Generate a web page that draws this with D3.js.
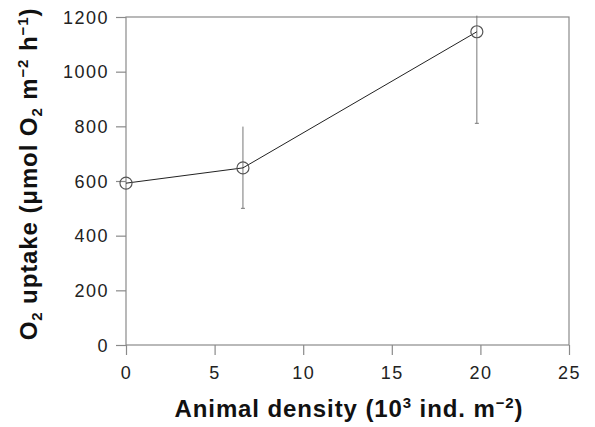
<!DOCTYPE html>
<html>
<head>
<meta charset="utf-8">
<script src="https://cdn.jsdelivr.net/npm/d3@7"></script>
<style>
  body { margin: 0; background: #fff; }
  svg { font-family: "Liberation Sans", Arial, sans-serif; }
</style>
</head>
<body>
<svg id="chart" width="595" height="427"></svg>
<script>
  // values
  const density = [0, 6.6, 19.8];
  const uptake = [592, 648, 1146];
  const errLow = [592, 500, 811];
  const errHigh = [592, 799, 1205];
  const xTicks = [0, 5, 10, 15, 20, 25];
  const yTicks = [0, 200, 400, 600, 800, 1000, 1200];

  const svg = d3.select('#chart');
  const plotLeft = 126, plotRight = 569, plotTop = 17, plotBottom = 345;

  const x = d3.scaleLinear().domain([0, 25]).range([plotLeft, plotRight]);
  const y = d3.scaleLinear().domain([0, 1200]).range([plotBottom, plotTop]);

  const axisColor = '#8a8a8a';

  // frame
  svg.append('rect')
    .attr('x', plotLeft).attr('y', plotTop)
    .attr('width', plotRight - plotLeft).attr('height', plotBottom - plotTop)
    .attr('fill', 'none').attr('stroke', axisColor).attr('stroke-width', 1.2);

  const xAxis = svg.append('g')
    .attr('transform', `translate(0,${plotBottom})`)
    .call(d3.axisBottom(x).tickValues(xTicks).tickFormat(d3.format('d'))
      .tickSize(10).tickPadding(11));
  const yAxis = svg.append('g')
    .attr('transform', `translate(${plotLeft},0)`)
    .call(d3.axisLeft(y).tickValues(yTicks).tickFormat(d3.format('d'))
      .tickSize(10).tickPadding(7));

  [xAxis, yAxis].forEach(g => {
    g.select('.domain').remove();
    g.selectAll('line').attr('stroke', axisColor).attr('stroke-width', 1.2);
    g.selectAll('text')
      .attr('fill', '#222')
      .style('font-size', '18px')
      .style('letter-spacing', '1.5px');
  });
  yAxis.selectAll('text').attr('dy', '0.35em');

  const points = density.map((d, i) => ({ x: d, y: uptake[i], lo: errLow[i], hi: errHigh[i] }));

  // error bars
  svg.selectAll('line.err')
    .data(points)
    .enter()
    .append('line')
    .attr('class', 'err')
    .attr('x1', d => x(d.x)).attr('x2', d => x(d.x))
    .attr('y1', d => y(d.lo)).attr('y2', d => y(d.hi))
    .attr('stroke', '#777').attr('stroke-width', 1);

  svg.selectAll('line.cap')
    .data(points.filter(d => d.lo !== d.hi))
    .enter()
    .append('line')
    .attr('class', 'cap')
    .attr('x1', d => x(d.x) - 2).attr('x2', d => x(d.x) + 2)
    .attr('y1', d => y(d.lo)).attr('y2', d => y(d.lo))
    .attr('stroke', '#777');

  svg.append('path')
    .datum(points)
    .attr('fill', 'none')
    .attr('stroke', '#222')
    .attr('stroke-width', 1)
    .attr('d', d3.line().x(d => x(d.x)).y(d => y(d.y)));

  svg.selectAll('circle')
    .data(points)
    .enter()
    .append('circle')
    .attr('cx', d => x(d.x))
    .attr('cy', d => y(d.y))
    .attr('r', 6)
    .attr('fill', 'none')
    .attr('stroke', '#555')
    .attr('stroke-width', 1.2);

  // axis titles
  const xTitle = svg.append('text')
    .attr('x', 349).attr('y', 417)
    .attr('text-anchor', 'middle')
    .style('font-size', '24px').style('font-weight', 'bold')
    .style('letter-spacing', '0.9px').attr('fill', '#111');
  xTitle.append('tspan').text('Animal density (10');
  xTitle.append('tspan').attr('dy', -9).style('font-size', '15px').text('3');
  xTitle.append('tspan').attr('dy', 9).text(' ind. m');
  xTitle.append('tspan').attr('dy', -9).style('font-size', '15px').text('\u22122');
  xTitle.append('tspan').attr('dy', 9).text(')');

  const yTitle = svg.append('text')
    .attr('transform', 'translate(37,174) rotate(-90)')
    .attr('text-anchor', 'middle')
    .style('font-size', '24px').style('font-weight', 'bold')
    .style('letter-spacing', '0.9px').attr('fill', '#111');
  yTitle.append('tspan').text('O');
  yTitle.append('tspan').attr('dy', 5).style('font-size', '15px').text('2');
  yTitle.append('tspan').attr('dy', -5).text(' uptake (\u03bcmol O');
  yTitle.append('tspan').attr('dy', 5).style('font-size', '15px').text('2');
  yTitle.append('tspan').attr('dy', -5).text(' m');
  yTitle.append('tspan').attr('dy', -9).style('font-size', '15px').text('\u22122');
  yTitle.append('tspan').attr('dy', 9).text(' h');
  yTitle.append('tspan').attr('dy', -9).style('font-size', '15px').text('\u22121');
  yTitle.append('tspan').attr('dy', 9).text(')');
</script>
</body>
</html>
